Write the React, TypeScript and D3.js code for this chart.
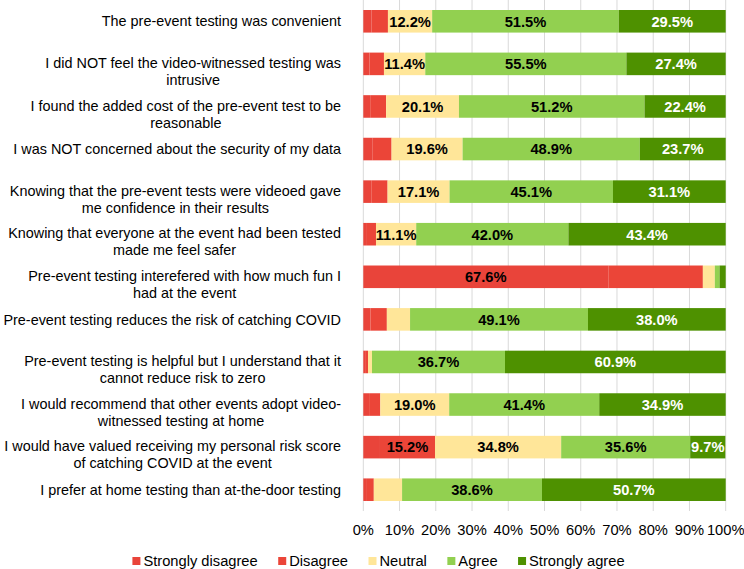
import React, { useEffect, useRef } from "react";
import * as d3 from "d3";

const categories = [
  "The pre-event testing was convenient",
  "I did NOT feel the video-witnessed testing was\nintrusive",
  "I found the added cost of the pre-event test to be\nreasonable",
  "I was NOT concerned about the security of my data",
  "Knowing that the pre-event tests were videoed gave\nme confidence in their results",
  "Knowing that everyone at the event had been tested\nmade me feel safer",
  "Pre-event testing interefered with how much fun I\nhad at the event",
  "Pre-event testing reduces the risk of catching COVID",
  "Pre-event testing is helpful but I understand that it\ncannot reduce risk to zero",
  "I would recommend that other events adopt video-\nwitnessed testing at home",
  "I would have valued receiving my personal risk score\nof catching COVID at the event",
  "I prefer at home testing than at-the-door testing",
];

const seriesNames = ["Strongly disagree", "Disagree", "Neutral", "Agree", "Strongly agree"];
const seriesColors = ["#E9443A", "#EB4538", "#FFE699", "#92D050", "#4E9100"];
const labelColors = ["#000", "#000", "#000", "#000", "#fff"];

const stronglyDisagree = [2.3, 1.7, 1.9, 2.6, 2.2, 1.0, 67.6, 2.0, 0.5, 1.6, 4.6, 1.0];
const disagree = [4.5, 4.0, 4.4, 5.2, 4.5, 2.5, 26.1, 4.5, 0.8, 3.1, 15.2, 1.9];
const neutral = [12.2, 11.4, 20.1, 19.6, 17.1, 11.1, 3.3, 6.4, 1.1, 19.0, 34.8, 7.8];
const agree = [51.5, 55.5, 51.2, 48.9, 45.1, 42.0, 1.3, 49.1, 36.7, 41.4, 35.6, 38.6];
const stronglyAgree = [29.5, 27.4, 22.4, 23.7, 31.1, 43.4, 1.7, 38.0, 60.9, 34.9, 9.7, 50.7];

// segments whose value label is not displayed in the original (row index, series index)
const hiddenLabels = [[6, 1]];
const labelThreshold = 9;

const tickValues = [0, 10, 20, 30, 40, 50, 60, 70, 80, 90, 100];

const FONT = "'Liberation Sans', Arial, sans-serif";

export default function App() {
  const ref = useRef<SVGSVGElement | null>(null);

  useEffect(() => {
    const svg = d3.select(ref.current);
    svg.selectAll("*").remove();

    const W = 744, H = 569;
    const plotLeft = 363.3, plotRight = 725.7, plotTop = 0, plotBottom = 511;

    const x = d3.scaleLinear().domain([0, 100]).range([plotLeft, plotRight]);
    const y = d3
      .scaleBand<number>()
      .domain(d3.range(categories.length))
      .range([plotTop, plotBottom])
      .paddingInner(0.47)
      .paddingOuter(0.235);

    const table = categories.map((c, i) => ({
      idx: i,
      v0: stronglyDisagree[i],
      v1: disagree[i],
      v2: neutral[i],
      v3: agree[i],
      v4: stronglyAgree[i],
    }));
    const keys = ["v0", "v1", "v2", "v3", "v4"];
    const stacked = d3.stack<any>().keys(keys)(table);

    // gridlines
    svg
      .append("g")
      .selectAll("line")
      .data(tickValues)
      .join("line")
      .attr("x1", (d) => x(d))
      .attr("x2", (d) => x(d))
      .attr("y1", plotTop)
      .attr("y2", plotBottom)
      .attr("stroke", "#D9D9D9")
      .attr("stroke-width", 1);

    // bars
    stacked.forEach((layer, si) => {
      const g = svg.append("g");
      g.selectAll("rect")
        .data(layer)
        .join("rect")
        .attr("x", (d) => x(d[0]))
        .attr("width", (d) => x(d[1]) - x(d[0]))
        .attr("y", (d) => y(d.data.idx)!)
        .attr("height", y.bandwidth())
        .attr("fill", seriesColors[si]);
    });

    // value labels
    stacked.forEach((layer, si) => {
      const g = svg.append("g");
      const data = layer.filter((d) => {
        const v = d[1] - d[0];
        if (v < labelThreshold) return false;
        return !hiddenLabels.some(([r, s]) => r === d.data.idx && s === si);
      });
      g.selectAll("text")
        .data(data)
        .join("text")
        .attr("x", (d) => x((d[0] + d[1]) / 2))
        .attr("y", (d) => y(d.data.idx)! + y.bandwidth() / 2)
        .attr("dy", "0.36em")
        .attr("text-anchor", "middle")
        .attr("font-family", FONT)
        .attr("font-size", 14.7)
        .attr("font-weight", "bold")
        .attr("fill", labelColors[si])
        .text((d) => (d[1] - d[0]).toFixed(1) + "%");
    });

    // category labels
    const labelRight = 341;
    categories.forEach((c, i) => {
      const lines = c.split("\n");
      const cy = y(i)! + y.bandwidth() / 2;
      const g = svg.append("g");
      const texts = lines.map((ln, li) =>
        g
          .append("text")
          .attr("font-family", FONT)
          .attr("font-size", 14.4)
          .attr("fill", "#000")
          .attr("y", lines.length === 1 ? cy : cy - 1 + li * 17)
          .attr("dy", "0.36em")
          .text(ln)
      );
      const widths = texts.map((t) => (t.node() as SVGTextElement).getComputedTextLength());
      const maxW = Math.max(...widths);
      texts.forEach((t) => {
        t.attr("x", labelRight - maxW / 2).attr("text-anchor", "middle");
      });
    });

    // x tick labels
    svg
      .append("g")
      .selectAll("text")
      .data(tickValues)
      .join("text")
      .attr("x", (d) => x(d))
      .attr("y", 530)
      .attr("dy", "0.36em")
      .attr("text-anchor", "middle")
      .attr("font-family", FONT)
      .attr("font-size", 14.7)
      .attr("fill", "#000")
      .text((d) => d + "%");

    // legend
    const legend = svg.append("g");
    const ly = 561;
    const items = seriesNames.map((name, i) => {
      const g = legend.append("g");
      g.append("rect")
        .attr("x", 0)
        .attr("y", ly - 4)
        .attr("width", 8)
        .attr("height", 8)
        .attr("fill", seriesColors[i]);
      const t = g
        .append("text")
        .attr("x", 11)
        .attr("y", ly)
        .attr("dy", "0.36em")
        .attr("font-family", FONT)
        .attr("font-size", 14.7)
        .attr("fill", "#000")
        .text(name);
      const w = 11 + (t.node() as SVGTextElement).getComputedTextLength();
      return { g, w };
    });
    const gap = 20.5;
    const total = d3.sum(items, (d) => d.w) + gap * (items.length - 1);
    let cx = 378.5 - total / 2;
    items.forEach((it) => {
      it.g.attr("transform", `translate(${cx},0)`);
      cx += it.w + gap;
    });
  }, []);

  return (
    <svg
      ref={ref}
      width={744}
      height={569}
      style={{ position: "absolute", left: 0, top: 0, background: "#fff" }}
    />
  );
}
